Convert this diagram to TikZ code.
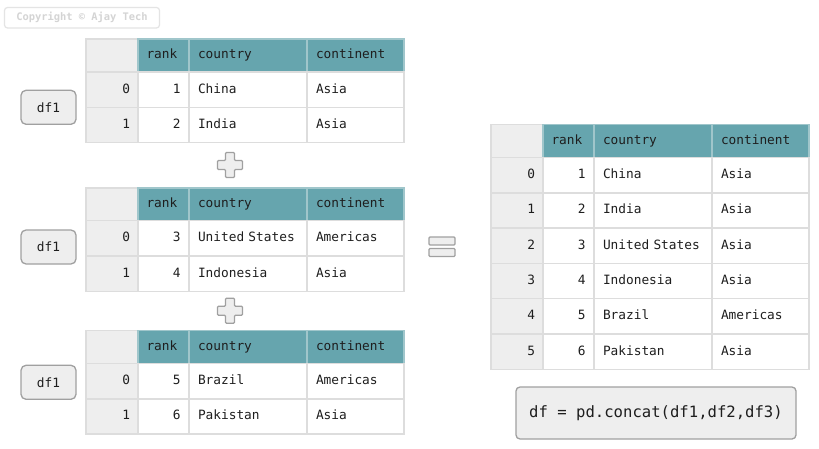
\documentclass[tikz,border=0pt]{standalone}
\usepackage{fontspec}
\setmainfont{DejaVu Sans Mono}
\definecolor{teal1}{HTML}{66A5AE}
\definecolor{gridc}{HTML}{DDDDDD}
\definecolor{hdrline}{HTML}{A0C6CB}
\definecolor{idxbg}{HTML}{EEEEEE}
\definecolor{boxline}{HTML}{A0A0A0}
\definecolor{txt}{HTML}{1E1E1E}
\definecolor{cpline}{HTML}{E4E4E4}
\definecolor{cptext}{HTML}{D4D4D4}
\tikzset{
 cell/.style={draw=gridc, line width=1.5pt, inner xsep=0pt, inner ysep=0pt, outer sep=0pt, anchor=north west,
   text height=9.5pt, text depth=2.5pt, font=\fontsize{12.8}{14}\selectfont, text=txt},
 c0/.style={minimum width=52pt, text width=36pt, align=right},
 c1/.style={minimum width=51pt, text width=34pt, align=right},
 c2/.style={minimum width=118pt, text width=100pt, align=left},
 c3/.style={minimum width=97pt, text width=79pt, align=left},
 hdr/.style={fill=teal1, draw=hdrline},
 body/.style={fill=white},
 idx/.style={fill=idxbg},
 sym/.style={fill=idxbg, draw=boxline, line width=1.2pt},
 dfbox/.style={fill=idxbg, draw=boxline, line width=1.3pt, rounded corners=5pt,
   minimum width=55pt, minimum height=34pt, inner sep=0pt, text=txt,
   font=\fontsize{12.8}{14}\selectfont},
 codebox/.style={fill=idxbg, draw=boxline, line width=1.3pt, rounded corners=4pt,
   minimum width=280pt, minimum height=52pt, inner sep=0pt, text=txt,
   font=\fontsize{15.6}{18}\selectfont},
 cpbox/.style={draw=cpline, line width=1.2pt, rounded corners=3pt, minimum width=155pt,
   minimum height=20.5pt, inner sep=0pt, text=cptext, font=\fontsize{10.4}{12}\selectfont\bfseries},
}
\newcommand\hdrrow[4]{%
 \node[cell, c0, idx, minimum height=#4pt] (#1-0) at (#2,#3) {};
 \node[cell, c1, hdr, align=left, minimum height=#4pt] (#1-1) at (#1-0.north east) {rank};
 \node[cell, c2, hdr, minimum height=#4pt] (#1-2) at (#1-1.north east) {country};
 \node[cell, c3, hdr, minimum height=#4pt] (#1-3) at (#1-2.north east) {continent};
}
\newcommand\datarow[8]{%
 \node[cell, c0, idx, minimum height=#4pt] (#1-0) at (#2,#3) {#5};
 \node[cell, c1, body, minimum height=#4pt] (#1-1) at (#1-0.north east) {#6};
 \node[cell, c2, body, minimum height=#4pt] (#1-2) at (#1-1.north east) {#7};
 \node[cell, c3, body, minimum height=#4pt] (#1-3) at (#1-2.north east) {#8};
}
\newcommand\plussign[3]{%
 \draw[sym, rounded corners=1pt, shift={(#2,#3)}] (-4.5,-12.5) -- (4.5,-12.5) -- (4.5,-4.5) -- (12.5,-4.5)
   -- (12.5,4.5) -- (4.5,4.5) -- (4.5,12.5) -- (-4.5,12.5) -- (-4.5,4.5) -- (-12.5,4.5)
   -- (-12.5,-4.5) -- (-4.5,-4.5) -- cycle;
 \coordinate (#1) at (#2,#3);
}
\begin{document}
\begin{tikzpicture}[x=1pt, y=-1pt]
\useasboundingbox[fill=white] (0,0) rectangle (819,449);

% copyright
\node[cpbox] (copy) at (82,17.75) {Copyright © Ajay Tech};

% table 1
\hdrrow{ta-h}{86}{39}{33}
\datarow{ta-r0}{86}{72}{35.3}{0}{1}{China}{Asia}
\datarow{ta-r1}{86}{107.3}{35.3}{1}{2}{India}{Asia}
\node[dfbox] (lab1) at (48.5,107.3) {df1};

\plussign{plus1}{230}{165}

% table 2
\hdrrow{tb-h}{86}{188}{32.5}
\datarow{tb-r0}{86}{220.5}{35.5}{0}{3}{United States}{Americas}
\datarow{tb-r1}{86}{256}{35.3}{1}{4}{Indonesia}{Asia}
\node[dfbox] (lab2) at (48.5,247) {df1};

\plussign{plus2}{230}{310.7}

% table 3
\hdrrow{tc-h}{86}{330.5}{33}
\datarow{tc-r0}{86}{363.5}{35.3}{0}{5}{Brazil}{Americas}
\datarow{tc-r1}{86}{398.8}{35.3}{1}{6}{Pakistan}{Asia}
\node[dfbox] (lab3) at (48.5,382.3) {df1};

% equals
\node[sym, rounded corners=1pt, minimum width=26pt, minimum height=8pt, inner sep=0pt] (eq1) at (442,241) {};
\node[sym, rounded corners=1pt, minimum width=26pt, minimum height=8pt, inner sep=0pt] (eq2) at (442,252.5) {};

% result table
\hdrrow{tr-h}{491}{124.5}{33}
\datarow{tr-r0}{491}{157.5}{35.3}{0}{1}{China}{Asia}
\datarow{tr-r1}{491}{192.8}{35.3}{1}{2}{India}{Asia}
\datarow{tr-r2}{491}{228.1}{35.3}{2}{3}{United States}{Asia}
\datarow{tr-r3}{491}{263.4}{35.3}{3}{4}{Indonesia}{Asia}
\datarow{tr-r4}{491}{298.7}{35.3}{4}{5}{Brazil}{Americas}
\datarow{tr-r5}{491}{334}{35.3}{5}{6}{Pakistan}{Asia}

% code
\node[codebox] (code) at (656,413) {df = pd.concat(df1,df2,df3)};
\end{tikzpicture}
\end{document}
